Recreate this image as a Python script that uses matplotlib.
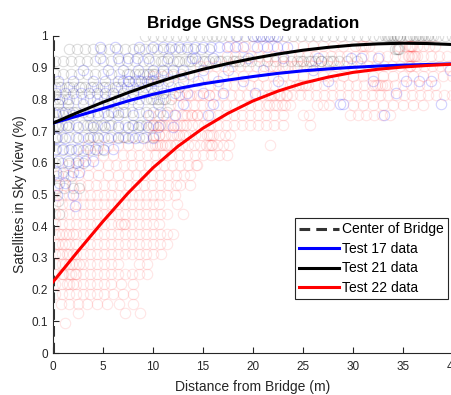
import numpy as np
import matplotlib
matplotlib.use("Agg")
import matplotlib.pyplot as plt

plt.rcParams['font.family'] = ['Liberation Sans', 'DejaVu Sans']

# satellites-in-view fraction per row level, with the distances (m) of each sample
test17_rows = [
    (1.0, [18.3, 20.0, 20.4, 20.8, 21.2, 21.6, 22.0, 22.4]),
    (0.964, [4.7, 6.2, 8.6, 10.0, 11.0, 11.8, 12.6, 13.4, 14.2, 15.0, 15.8, 16.6, 17.4, 18.2, 19.0,
             20.4, 21.4, 22.4, 23.4]),
    (0.929, [4.7, 6.5, 7.5, 8.4, 9.5, 11.5, 13.9, 14.2, 16.0, 19.5, 23.0, 26.5, 29.8, 30.8, 32.5]),
    (0.893, [3.0, 5.5, 7.0, 8.5, 10.0, 11.0, 12.0, 13.0, 15.0, 17.5, 21.0, 26.0, 39.7]),
    (0.857, [0.5, 2.0, 4.0, 5.2, 6.5, 7.0, 7.5, 7.6, 8.2, 8.6, 8.8, 9.4, 9.8, 10.0, 10.5, 11.5, 13.0,
             14.5, 16.5, 19.0, 22.5, 27.5, 32.0, 35.3, 36.6, 37.8]),
    (0.821, [0.3, 1.2, 2.0, 2.8, 3.6, 4.4, 5.2, 6.0, 7.0, 8.0, 9.0, 10.0, 11.0, 12.2, 13.4, 15.0,
             17.0, 20.2, 34.3]),
    (0.786, [0.5, 1.5, 3.0, 4.5, 5.5, 7.0, 8.5, 10.5, 13.0, 16.0, 28.7, 29.0, 38.8]),
    (0.75, [0.3, 1.0, 2.0, 3.5, 4.5, 5.5, 6.5, 8.0, 9.5, 11.0, 12.2, 15.5, 33.1]),
    (0.714, [0.5, 1.5, 2.5, 4.0, 5.2, 6.5, 7.5, 8.5, 9.5, 10.5, 12.0]),
    (0.679, [0.3, 1.2, 2.5, 3.5, 4.5, 5.5, 6.5, 7.5, 8.2, 9.0, 10.0]),
    (0.643, [0.3, 1.0, 1.8, 2.5, 3.4, 4.2, 5.0, 6.0]),
    (0.607, [0.5, 1.5, 2.5, 3.2, 4.0]),
    (0.571, [0.3, 1.0, 2.0, 2.6]),
    (0.536, [0.6, 1.2]),
    (0.5, [0.4, 2.0]),
    (0.464, [2.2]),
]

test21_rows = [
    (1.0, [9.2, 10.0, 10.8, 11.5, 12.3, 13.0, 13.8, 14.6, 15.4, 15.9, 16.3, 16.8, 17.6, 18.4, 19.2,
           20.0, 20.8, 21.6, 22.4, 23.2, 24.0, 24.8, 25.6, 26.4, 27.2, 28.0, 28.8, 29.6, 30.4, 31.2,
           32.0, 32.6, 33.2, 33.4, 33.5, 33.7, 33.8, 34.0, 34.1, 34.4, 34.4, 34.7, 34.7, 35.4, 35.6,
           35.7, 36.0, 36.2, 36.3, 36.6, 36.8, 36.9, 37.2, 37.4, 37.5, 37.8, 38.0, 38.5, 39.2, 39.9]),
    (0.96, [1.6, 2.4, 3.2, 4.0, 4.8, 5.6, 6.4, 7.2, 8.0, 8.6, 9.2, 9.8, 10.4, 11.0, 11.6, 12.2, 12.8,
            13.4, 14.0, 14.8, 15.6, 34.2, 34.4, 34.5, 34.6]),
    (0.92, [0.2, 1.0, 1.8, 2.6, 3.4, 4.2, 5.0, 5.8, 6.6, 7.4, 8.2, 9.0, 9.6, 10.2, 10.8, 11.0, 11.4,
            12.0, 12.4, 12.6, 13.2, 13.6, 13.8, 14.4, 15.0, 15.2, 15.6, 16.2, 16.6, 16.8, 17.4, 18.0,
            18.2, 18.6, 19.2, 19.8, 20.6, 21.4, 22.2, 23.0, 23.8, 24.4, 24.8, 25.0, 25.6, 25.8, 26.2,
            26.8, 26.8, 27.4, 27.8, 28.0, 28.6, 29.4, 30.4]),
    (0.88, [0.2, 1.0, 1.8, 2.6, 3.4, 4.2, 5.0, 5.8, 6.6, 7.4, 7.6, 8.2, 8.6, 9.0, 9.4, 9.6, 10.0,
            10.2, 10.8, 11.4, 12.0, 12.8, 13.6]),
    (0.84, [0.2, 0.6, 0.8, 1.4, 1.6, 2.0, 2.6, 2.8, 3.2, 3.8, 4.0, 4.4, 5.0, 5.2, 5.6, 6.2, 6.4, 6.8,
            7.4, 8.0, 8.6, 9.2, 9.8, 10.4, 11.0, 11.8, 12.6]),
    (0.80, [0.2, 0.6, 0.9, 1.4, 1.6, 2.3, 3.0, 3.7, 4.4, 5.1, 5.8, 6.5, 7.2, 7.9, 8.6, 9.3, 9.8, 10.0,
            10.4, 10.6, 11.0, 11.2, 11.8]),
    (0.76, [0.2, 0.5, 0.9, 1.2, 1.6, 2.0, 2.3, 3.0, 3.7, 4.4, 5.1, 5.8, 6.0, 6.5, 7.0, 7.2, 7.9, 8.6,
            9.3, 10.0, 10.7, 11.4]),
    (0.72, [0.2, 0.5, 0.9, 1.3, 1.6, 2.3, 3.0, 3.4, 3.7, 4.0, 4.4, 4.8, 5.1, 5.6, 5.8, 6.5, 7.2, 7.9,
            8.0, 8.6, 8.8, 9.3, 10.0, 10.7]),
    (0.68, [0.2, 0.4, 0.9, 1.6, 2.3, 3.0, 3.7, 4.0, 4.4, 5.1, 5.8, 6.5, 7.0, 7.2, 7.9, 8.6, 9.3, 10.0]),
    (0.64, [0.2, 0.9, 1.6, 2.3, 3.0, 3.7, 4.4, 5.1]),
    (0.60, [0.2, 0.9, 1.6, 2.3, 3.0]),
    (0.56, [0.3, 1.0, 1.8]),
    (0.52, [0.4, 1.1, 2.0, 2.6]),
    (0.48, [0.5]),
    (0.44, [0.6]),
]

test22_rows = [
    (0.969, [17.6, 18.4, 19.2, 20.0, 21.0, 22.0, 23.0, 24.0, 25.0, 26.0, 27.0, 28.0, 29.0, 30.2, 30.8,
             31.0, 31.2, 31.6, 34.6, 35.2, 35.6, 35.7, 35.8, 35.9, 36.4, 37.0, 37.6, 38.2]),
    (0.9375, [17.4, 18.2, 19.0, 19.8, 20.6, 21.4, 22.2, 23.0, 23.8, 24.6, 25.4, 26.2, 27.0, 27.8, 28.6,
              29.4, 30.2, 31.0, 31.8, 32.6, 33.4, 34.2, 35.0, 35.5, 35.6, 35.8, 35.9, 36.1, 36.2, 36.4,
              37.0, 37.8, 38.6, 39.4]),
    (0.906, [14.7, 15.5, 16.3, 17.1, 17.9, 18.7, 19.5, 20.3, 21.1, 21.7, 22.0, 22.3, 22.9, 23.2, 23.5,
             24.1, 24.4, 24.7, 25.3, 25.9, 26.7, 27.5, 28.3, 29.1, 29.9, 30.7, 31.5, 32.3, 33.1, 33.9,
             34.7, 35.5, 35.7, 35.7, 36.3, 37.1, 37.9, 38.7, 39.5]),
    (0.875, [10.0, 11.0, 12.0, 13.0, 14.0, 15.0, 16.0, 17.0, 18.0, 19.0, 20.0, 21.0, 22.0, 23.0, 24.0,
             25.0, 26.0, 27.0, 28.0, 29.0, 30.0, 31.0, 32.0, 33.0, 34.0, 35.0, 36.0, 37.0, 38.0, 39.0,
             39.9]),
    (0.844, [15.7, 16.5, 17.3, 18.1, 18.9, 19.7, 20.5, 21.3, 22.1, 22.9, 23.7, 24.3, 24.6, 24.9, 25.2,
             25.5, 26.3, 27.1, 27.9, 28.7, 29.5, 30.3, 31.1, 31.9, 32.2, 32.4, 32.7, 32.9, 33.2, 33.4,
             34.2, 35.0, 35.8, 36.6, 37.4, 38.2]),
    (0.8125, [12.0, 12.6, 12.6, 13.2, 13.6, 13.8, 14.4, 14.6, 15.0, 15.6, 15.6, 16.2, 17.0, 17.8, 18.6,
              19.4, 20.2, 20.9, 21.5, 21.8, 22.1, 22.6, 22.7, 23.3, 23.4, 23.9, 24.7, 25.5, 26.3, 27.1,
              27.9, 28.7, 29.5, 30.3, 31.1, 31.9, 32.7, 33.5, 34.3, 35.1, 35.9, 36.7, 37.5, 38.3, 39.1,
              39.9]),
    (0.781, [11.7, 12.5, 13.3, 14.1, 14.9, 15.7, 16.5, 17.3, 18.1, 18.9, 19.7, 20.5, 21.3, 21.6, 22.1,
             22.4, 22.9, 23.2, 23.7, 26.4, 27.0, 27.6, 30.0, 31.0, 32.0, 33.0, 34.0, 35.0, 36.0, 37.0]),
    (0.75, [9.7, 10.5, 11.3, 12.1, 12.9, 13.2, 13.4, 13.8, 13.9, 14.4, 14.4, 14.9, 15.7, 16.5, 17.3,
            18.1, 18.9, 19.7, 20.5, 21.3, 22.1, 23.0, 25.0, 25.6, 29.7, 30.5, 31.3, 32.1, 32.9, 33.7]),
    (0.719, [9.7, 10.0, 10.3, 10.6, 10.9, 11.2, 11.5, 11.8, 12.1, 12.4, 12.7, 13.0, 13.3, 13.9, 14.5,
             15.1, 15.7, 16.5, 17.3, 18.1, 18.9, 19.7, 20.5, 21.3, 22.1, 23.0, 25.7]),
    (0.6875, [10.0, 10.2, 10.6, 10.6, 11.2, 11.8, 12.0, 12.4, 12.6, 13.0, 13.2, 13.6, 14.2, 14.8, 15.4,
              15.6, 15.8, 16.0, 16.6, 17.2, 17.7]),
    (0.656, [3.5, 4.5, 5.5, 6.5, 7.5, 8.5, 9.7, 9.9, 10.2, 10.4, 10.7, 10.9, 11.2, 11.4, 11.7, 12.3,
             12.9, 13.5, 14.1, 14.7, 15.3, 15.6, 15.8, 15.9, 16.4, 17.0, 17.6, 21.7]),
    (0.625, [3.0, 4.0, 5.0, 6.0, 7.0, 7.8, 8.6, 9.4, 10.2, 11.0, 11.8, 12.6, 13.4, 14.2, 15.0, 15.8,
             16.6, 17.4]),
    (0.594, [1.5, 2.5, 3.5, 4.5, 5.5, 6.3, 7.1, 7.9, 8.7, 9.5, 10.3, 11.1, 11.9, 12.7, 13.5, 14.3,
             14.4]),
    (0.5625, [0.5, 1.5, 2.5, 3.5, 4.5, 5.5, 6.5, 7.5, 8.3, 9.1, 9.9, 10.7, 11.5, 12.3, 13.1, 13.7]),
    (0.531, [0.3, 1.1, 1.9, 2.7, 3.5, 4.3, 5.1, 5.9, 6.7, 7.5, 8.3, 9.1, 9.9, 10.7, 11.5, 12.3, 12.7,
             13.7]),
    (0.5, [0.2, 0.9, 1.6, 2.3, 3.0, 3.7, 4.4, 5.1, 5.8, 6.5, 7.2, 7.9, 8.6, 9.3, 10.0, 10.7, 11.4,
           12.2]),
    (0.469, [0.2, 0.9, 1.6, 2.3, 3.0, 3.7, 4.4, 5.1, 5.8, 6.5, 7.2, 7.9, 8.6, 9.3, 10.0, 10.6, 12.4]),
    (0.4375, [0.2, 0.9, 1.6, 2.3, 3.0, 3.7, 4.4, 5.1, 5.8, 6.5, 7.2, 7.9, 8.6, 9.3, 10.0, 10.7, 11.4,
              13.0]),
    (0.406, [0.2, 0.9, 1.6, 2.3, 3.0, 3.7, 4.4, 5.1, 5.8, 6.5, 6.8, 7.1, 7.2, 7.9, 8.6, 9.3, 10.0,
             10.6]),
    (0.375, [0.2, 0.6, 0.9, 1.3, 1.6, 2.0, 2.3, 3.0, 3.7, 4.4, 5.1, 5.8, 6.5, 7.2, 7.9, 8.6, 9.3,
             10.0, 10.7, 11.4, 12.0]),
    (0.344, [0.2, 0.5, 0.9, 1.2, 1.6, 2.3, 3.0, 3.7, 4.4, 5.1, 5.8, 6.5, 7.2, 7.9, 8.6, 9.3, 10.0,
             10.7, 11.4]),
    (0.3125, [0.2, 0.6, 0.9, 1.4, 1.6, 2.0, 2.3, 3.0, 3.7, 4.4, 5.1, 5.8, 6.5, 7.2, 7.9, 8.6, 9.3,
              10.0, 10.8]),
    (0.281, [0.2, 0.9, 1.2, 1.6, 1.9, 2.3, 2.6, 3.0, 3.7, 4.4, 5.1, 5.8, 6.5, 8.6, 9.4]),
    (0.25, [0.2, 0.9, 1.0, 1.6, 1.8, 2.2, 2.3, 3.0, 3.7, 4.4, 5.1, 5.8, 6.5, 7.2, 7.9, 8.6, 9.4]),
    (0.219, [0.2, 0.9, 1.4, 1.6, 2.0, 2.3, 3.0, 3.7, 4.4, 5.1, 5.8, 6.8, 8.0]),
    (0.1875, [0.2, 0.9, 1.6, 2.3, 3.0, 3.7, 4.4, 5.1, 6.0, 7.0, 8.0]),
    (0.156, [0.8, 1.6, 2.5, 3.4, 4.4, 5.4, 6.6, 8.0]),
    (0.125, [2.5, 7.2, 8.7]),
    (0.094, [1.2]),
]

# fitted trend of each test, read every 2.5 m
fit_x = [0, 2.5, 5, 7.5, 10, 12.5, 15, 17.5, 20, 22.5, 25, 27.5, 30, 32.5, 35, 37.5, 40]
fit17 = [0.725, 0.748, 0.771, 0.795, 0.816, 0.834, 0.849, 0.861, 0.872, 0.882, 0.890, 0.896,
         0.901, 0.905, 0.908, 0.910, 0.912]
fit21 = [0.725, 0.759, 0.791, 0.821, 0.849, 0.874, 0.895, 0.913, 0.929, 0.943, 0.955, 0.964,
         0.971, 0.975, 0.977, 0.976, 0.973]
fit22 = [0.224, 0.321, 0.415, 0.504, 0.584, 0.652, 0.709, 0.756, 0.795, 0.826, 0.851, 0.870,
         0.885, 0.895, 0.902, 0.907, 0.911]


def flatten(rows):
    xs, ys = [], []
    for level, dists in rows:
        xs += dists
        ys += [level] * len(dists)
    return np.array(xs), np.array(ys)


fig = plt.figure(figsize=(4.52, 3.95), dpi=100)
ax = fig.add_axes([0.117, 0.106, 0.885, 0.803])

for rows, col, a in [(test17_rows, 'blue', 0.18), (test21_rows, 'black', 0.13),
                     (test22_rows, 'red', 0.1)]:
    x, y = flatten(rows)
    ax.plot(x, y, 'o', ms=7.5, mfc='none', mec=col, mew=0.8, alpha=a, zorder=2)

ax.axvline(0, color='#333333', lw=2.2, ls=(0, (3.5, 2)), zorder=4, label='Center of Bridge')
ax.plot(fit_x, fit17, color='blue', lw=2.2, zorder=5, label='Test 17 data')
ax.plot(fit_x, fit21, color='black', lw=2.2, zorder=5, label='Test 21 data')
ax.plot(fit_x, fit22, color='red', lw=2.2, zorder=5, label='Test 22 data')

ax.set_xlim(0, 40)
ax.set_ylim(0, 1)
ax.set_xticks(np.arange(0, 41, 5))
ax.set_yticks(np.arange(0, 1.01, 0.1))
ax.set_yticklabels(['0', '0.1', '0.2', '0.3', '0.4', '0.5', '0.6', '0.7', '0.8', '0.9', '1'])
ax.tick_params(direction='in', length=4, width=0.8, labelsize=8.5, colors='#262626')
ax.tick_params(axis='x', pad=6)
for s in ['top', 'right']:
    ax.spines[s].set_visible(False)
for s in ['left', 'bottom']:
    ax.spines[s].set_color('#262626')
    ax.spines[s].set_linewidth(0.8)

ax.set_title('Bridge GNSS Degradation', fontsize=12.3, fontweight='bold', pad=6)
ax.set_xlabel('Distance from Bridge (m)', fontsize=10, color='#262626', labelpad=5)
ax.set_ylabel('Satellites in Sky View (%)', fontsize=10, color='#262626', labelpad=3)

leg = ax.legend(loc='lower right', bbox_to_anchor=(0.9875, 0.17), fontsize=10, frameon=True,
                fancybox=False, framealpha=1, edgecolor='#262626', handlelength=2.9,
                handletextpad=0.2, labelspacing=0.4, borderpad=0.3, borderaxespad=0)
leg.get_frame().set_linewidth(0.8)

fig.savefig('out.png', dpi=100)
